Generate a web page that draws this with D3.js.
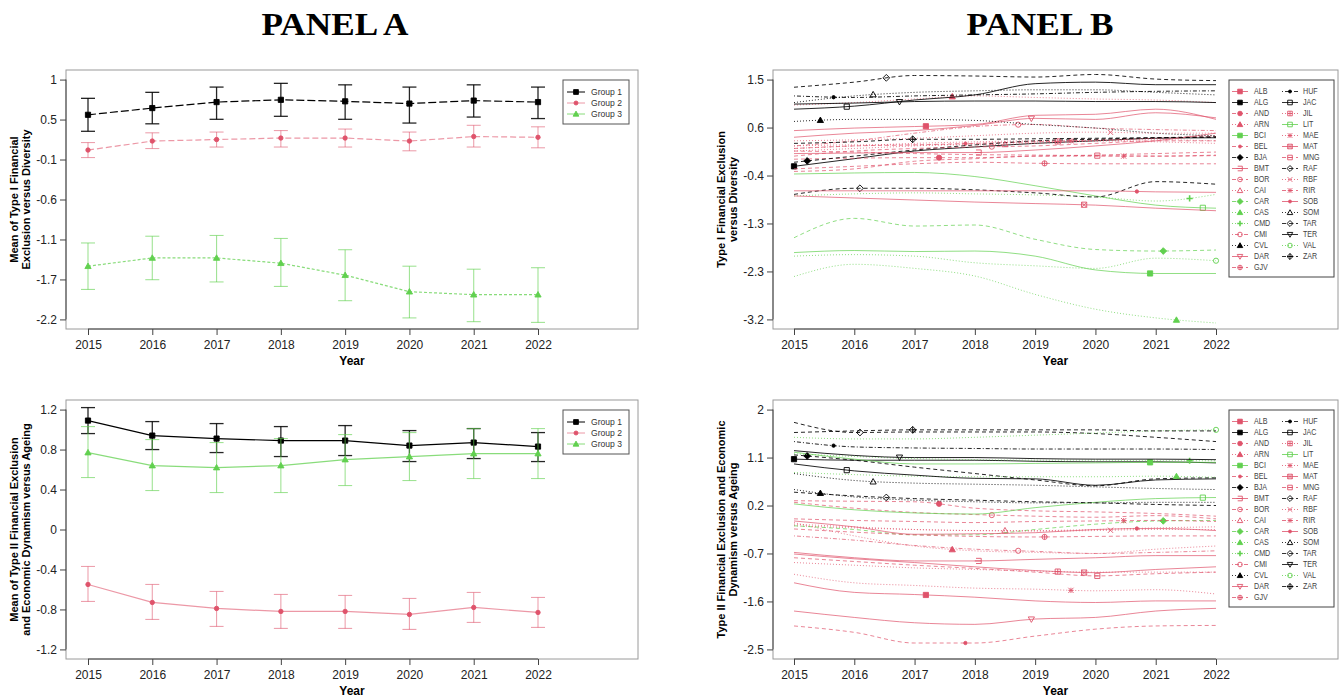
<!DOCTYPE html>
<html><head><meta charset="utf-8">
<script src="https://cdn.jsdelivr.net/npm/d3@7"></script>
<style>
body{margin:0;background:#fff}
svg{display:block}
text{font-family:"Liberation Sans",Arial,Helvetica,sans-serif}
</style>
</head><body>
<script>
// ---------------- DATA ----------------
const years = [2015, 2016, 2017, 2018, 2019, 2020, 2021, 2022];
const groupNames = ["Group 1", "Group 2", "Group 3"];

// Panel A, top: mean of Type I Financial Exclusion versus Diversity
const typeI_mean_G1 = [0.53, 0.62, 0.70, 0.73, 0.71, 0.68, 0.72, 0.70];
const typeI_low_G1  = [0.31, 0.41, 0.47, 0.51, 0.47, 0.42, 0.50, 0.48];
const typeI_high_G1 = [0.75, 0.83, 0.90, 0.95, 0.93, 0.90, 0.93, 0.90];
const typeI_mean_G2 = [0.06, 0.18, 0.20, 0.22, 0.22, 0.18, 0.24, 0.23];
const typeI_low_G2  = [-0.04, 0.08, 0.10, 0.10, 0.10, 0.05, 0.10, 0.09];
const typeI_high_G2 = [0.16, 0.29, 0.30, 0.32, 0.34, 0.30, 0.39, 0.37];
const typeI_mean_G3 = [-1.49, -1.38, -1.38, -1.45, -1.61, -1.83, -1.87, -1.87];
const typeI_low_G3  = [-1.80, -1.67, -1.70, -1.76, -1.95, -2.18, -2.23, -2.24];
const typeI_high_G3 = [-1.18, -1.09, -1.08, -1.12, -1.27, -1.49, -1.53, -1.51];

// Panel A, bottom: mean of Type II Financial Exclusion and Economic Dynamism versus Ageing
const typeII_mean_G1 = [1.09, 0.94, 0.91, 0.89, 0.89, 0.84, 0.87, 0.83];
const typeII_low_G1  = [0.96, 0.80, 0.77, 0.73, 0.74, 0.68, 0.71, 0.68];
const typeII_high_G1 = [1.22, 1.08, 1.06, 1.03, 1.04, 0.99, 1.01, 0.97];
const typeII_mean_G2 = [-0.55, -0.73, -0.79, -0.82, -0.82, -0.85, -0.78, -0.83];
const typeII_low_G2  = [-0.72, -0.90, -0.97, -0.99, -0.99, -1.00, -0.93, -0.98];
const typeII_high_G2 = [-0.37, -0.55, -0.62, -0.65, -0.66, -0.69, -0.63, -0.68];
const typeII_mean_G3 = [0.77, 0.64, 0.62, 0.64, 0.70, 0.73, 0.76, 0.76];
const typeII_low_G3  = [0.52, 0.39, 0.37, 0.37, 0.44, 0.49, 0.51, 0.51];
const typeII_high_G3 = [1.03, 0.90, 0.87, 0.91, 0.95, 0.97, 1.01, 1.01];

// Tick labels
const tickLabels_A_top    = ["-2.2", "-1.7", "-1.1", "-0.6", "-0.1", "0.5", "1"];
const tickLabels_A_bottom = ["-1.2", "-0.8", "-0.4", "0", "0.4", "0.8", "1.2"];
const tickLabels_B_top    = ["-3.2", "-2.3", "-1.3", "-0.4", "0.6", "1.5"];
const tickLabels_B_bottom = ["-2.5", "-1.6", "-0.7", "0.2", "1.1", "2"];

// Panel B: comarcas (legend order) and their group
const cities    = ["ALB","ALG","AND","ARN","BCI","BEL","BJA","BMT","BOR","CAI","CAR","CAS","CMD","CMI","CVL","DAR","GJV",
                   "HUF","JAC","JIL","LIT","MAE","MAT","MNG","RAF","RBF","RIR","SOB","SOM","TAR","TER","VAL","ZAR"];
const cityGroup = [2,1,2,2,3,2,1,2,2,2,3,3,3,2,1,2,2, 1,1,2,3,2,2,2,1,2,2,2,1,1,1,3,1];

// Panel B top: Type I Financial Exclusion versus Diversity
const typeI_ALB = [0.50, 0.55, 0.58, 0.62, 0.80, 0.82, 0.92, 0.72];
const typeI_ALG = [-0.20, -0.05, 0.10, 0.18, 0.25, 0.30, 0.35, 0.36];
const typeI_AND = [-0.06, -0.04, -0.03, -0.03, 0.00, 0.02, 0.05, 0.08];
const typeI_ARN = [1.00, 1.05, 1.12, 1.18, 1.15, 1.12, 1.10, 1.05];
const typeI_BCI = [-1.89, -1.85, -1.87, -1.86, -1.96, -2.23, -2.30, -2.30];
const typeI_BEL = [0.15, 0.20, 0.22, 0.25, 0.28, 0.32, 0.35, 0.38];
const typeI_BJA = [-0.12, 0.00, 0.12, 0.22, 0.30, 0.33, 0.36, 0.38];
const typeI_BMT = [0.05, 0.06, 0.07, 0.07, 0.12, 0.20, 0.30, 0.45];
const typeI_BOR = [0.00, 0.10, 0.15, 0.18, 0.20, 0.25, 0.30, 0.30];
const typeI_CAI = [0.20, 0.22, 0.22, 0.22, 0.25, 0.30, 0.35, 0.40];
const typeI_CAR = [-1.60, -1.22, -1.37, -1.35, -1.63, -1.83, -1.86, -1.84];
const typeI_CAS = [-2.36, -2.12, -2.20, -2.35, -2.71, -3.00, -3.17, -3.27];
const typeI_CMD = [-0.78, -0.74, -0.72, -0.74, -0.76, -0.80, -0.88, -0.75];
const typeI_CMI = [0.20, 0.30, 0.45, 0.58, 0.62, 0.55, 0.52, 0.50];
const typeI_CVL = [0.68, 0.72, 0.72, 0.70, 0.62, 0.55, 0.45, 0.40];
const typeI_DAR = [0.37, 0.45, 0.50, 0.60, 0.74, 0.72, 0.85, 0.75];
const typeI_GJV = [-0.25, -0.20, -0.15, -0.12, -0.14, -0.15, -0.15, -0.15];
const typeI_HUF = [1.18, 1.15, 1.18, 1.20, 1.22, 1.25, 1.27, 1.28];
const typeI_JAC = [0.92, 0.98, 1.10, 1.20, 1.42, 1.45, 1.40, 1.40];
const typeI_JIL = [0.10, 0.15, 0.20, 0.25, 0.28, 0.30, 0.32, 0.30];
const typeI_LIT = [-0.35, -0.33, -0.32, -0.40, -0.58, -0.78, -0.96, -1.02];
const typeI_MAE = [0.15, 0.20, 0.25, 0.28, 0.30, 0.30, 0.28, 0.25];
const typeI_MAT = [-0.78, -0.82, -0.86, -0.90, -0.93, -0.96, -1.02, -1.07];
const typeI_MNG = [0.10, 0.08, 0.05, 0.03, 0.02, 0.01, 0.00, 0.02];
const typeI_RAF = [-0.75, -0.63, -0.63, -0.66, -0.72, -0.80, -0.50, -0.55];
const typeI_RBF = [0.30, 0.32, 0.35, 0.40, 0.45, 0.47, 0.45, 0.45];
const typeI_RIR = [-0.30, -0.25, -0.10, -0.05, 0.00, 0.00, 0.00, 0.01];
const typeI_SOB = [-0.68, -0.68, -0.68, -0.68, -0.68, -0.68, -0.70, -0.71];
const typeI_SOM = [1.05, 1.18, 1.25, 1.28, 1.30, 1.30, 1.25, 1.20];
const typeI_TAR = [1.35, 1.45, 1.58, 1.57, 1.55, 1.60, 1.51, 1.48];
const typeI_TER = [1.02, 1.04, 1.07, 1.08, 1.08, 1.07, 1.07, 1.05];
const typeI_VAL = [-1.96, -1.93, -1.96, -2.09, -2.15, -2.20, -2.00, -2.05];
const typeI_ZAR = [0.25, 0.28, 0.33, 0.33, 0.34, 0.35, 0.36, 0.37];

// Panel B bottom: Type II Financial Exclusion and Economic Dynamism versus Ageing
const typeII_ALB = [-1.25, -1.43, -1.47, -1.52, -1.59, -1.62, -1.59, -1.59];
const typeII_ALG = [1.07, 1.05, 1.05, 1.05, 1.03, 1.02, 1.02, 1.00];
const typeII_AND = [0.29, 0.28, 0.27, 0.15, 0.10, 0.08, 0.05, 0.00];
const typeII_ARN = [-0.12, -0.37, -0.56, -0.65, -0.68, -0.70, -0.62, -0.56];
const typeII_BCI = [1.20, 1.07, 0.98, 0.98, 0.99, 1.00, 1.01, 1.01];
const typeII_BEL = [-2.06, -2.18, -2.38, -2.38, -2.25, -2.12, -2.06, -2.05];
const typeII_BJA = [1.15, 1.05, 0.92, 0.80, 0.68, 0.57, 0.70, 0.72];
const typeII_BMT = [-0.68, -0.78, -0.84, -0.84, -0.81, -0.78, -0.74, -0.74];
const typeII_BOR = [0.26, 0.15, 0.07, 0.03, 0.00, -0.02, 0.01, -0.05];
const typeII_CAI = [-0.18, -0.22, -0.25, -0.27, -0.27, -0.25, -0.22, -0.20];
const typeII_CAR = [-0.18, -0.25, -0.35, -0.35, -0.25, -0.15, -0.09, -0.08];
const typeII_CAS = [0.82, 0.78, 0.75, 0.74, 0.74, 0.74, 0.75, 0.73];
const typeII_CMD = [1.17, 1.12, 1.08, 1.06, 1.05, 1.05, 1.04, 1.04];
const typeII_CMI = [-0.37, -0.45, -0.55, -0.62, -0.66, -0.70, -0.68, -0.65];
const typeII_CVL = [0.50, 0.36, 0.30, 0.27, 0.25, 0.25, 0.26, 0.26];
const typeII_DAR = [-1.78, -1.90, -2.00, -2.03, -1.93, -1.90, -1.78, -1.73];
const typeII_GJV = [-0.24, -0.30, -0.35, -0.38, -0.39, -0.38, -0.37, -0.37];
const typeII_HUF = [1.40, 1.30, 1.28, 1.27, 1.26, 1.26, 1.26, 1.25];
const typeII_JAC = [0.98, 0.85, 0.77, 0.71, 0.70, 0.58, 0.68, 0.70];
const typeII_JIL = [-0.87, -0.92, -0.97, -1.00, -1.03, -1.05, -1.05, -1.05];
const typeII_LIT = [0.23, 0.12, 0.06, 0.04, 0.16, 0.26, 0.33, 0.35];
const typeII_MAE = [-1.09, -1.25, -1.30, -1.35, -1.37, -1.40, -1.38, -1.46];
const typeII_MAT = [-0.71, -0.80, -0.87, -0.95, -1.02, -1.06, -1.00, -0.95];
const typeII_MNG = [-0.78, -0.85, -0.92, -0.98, -1.05, -1.12, -1.08, -1.05];
const typeII_RAF = [1.76, 1.57, 1.58, 1.58, 1.58, 1.55, 1.48, 1.40];
const typeII_RBF = [-0.15, -0.20, -0.25, -0.27, -0.28, -0.27, -0.25, -0.25];
const typeII_RIR = [-0.05, -0.08, -0.10, -0.12, -0.10, -0.09, -0.08, -0.10];
const typeII_SOB = [-0.09, -0.20, -0.34, -0.33, -0.31, -0.25, -0.23, -0.27];
const typeII_SOM = [0.80, 0.67, 0.62, 0.60, 0.58, 0.55, 0.52, 0.50];
const typeII_TAR = [0.45, 0.38, 0.33, 0.30, 0.27, 0.25, 0.22, 0.20];
const typeII_TER = [1.23, 1.14, 1.10, 1.10, 1.08, 1.07, 1.07, 1.06];
const typeII_VAL = [1.48, 1.45, 1.45, 1.48, 1.52, 1.56, 1.60, 1.62];
const typeII_ZAR = [1.57, 1.60, 1.62, 1.62, 1.62, 1.62, 1.60, 1.60];

// ---------------- STYLES ----------------
const groupColor = {1: "#000000", 2: "#DF536B", 3: "#61D04F"};
const cityDash  = ["solid","solid","dashed","dotted","solid","dashed","dashed","solid","dashed","dotted","dashed","dotted","dotted","dotdash","dotted","solid","dashed",
                   "dotdash","solid","dotted","solid","dotted","solid","dashed","dashed","dotted","dashed","solid","dotted","dashed","solid","dotted","dashed"];
const cityShape = ["square","square","circle","triangle","square","dot","diamond","bracket","circleOpen","triangleOpen","diamond","triangle","plus","circleOpen","triangle","triangleDownOpen","circlePlus",
                   "dot","squareOpen","squarePlus","squareOpen","asterisk","squareX","squareMinus","diamondOpen","cross","asterisk","dot","triangleOpen","diamondOpen","triangleDownOpen","circleOpen","diamondPlus"];
const dashArray = {solid: null, dashed: "4,3", dotted: "1,2", dotdash: "1,2,4,2", longdash: "7,3"};

// ---------------- HELPERS ----------------
const svg = d3.select("body").append("svg").attr("width", 1343).attr("height", 699);

function circ(r){ return `M${-r},0A${r},${r} 0 1,0 ${r},0A${r},${r} 0 1,0 ${-r},0Z`; }
function markerPath(shape, s){
  const sq = `M${-s},${-s}H${s}V${s}H${-s}Z`;
  const pl = `M${-s},0H${s}M0,${-s}V${s}`;
  const cr = `M${-s},${-s}L${s},${s}M${-s},${s}L${s},${-s}`;
  const h = s*1.2, d = s*1.3;
  const dm = `M0,${-d}L${d},0L0,${d}L${-d},0Z`;
  switch(shape){
    case "square": case "squareOpen": return sq;
    case "circle": case "circleOpen": return circ(s);
    case "dot": return circ(s*0.65);
    case "triangle": case "triangleOpen": return `M0,${-h}L${h},${h*0.75}L${-h},${h*0.75}Z`;
    case "triangleDownOpen": return `M0,${h}L${h},${-h*0.75}L${-h},${-h*0.75}Z`;
    case "diamond": case "diamondOpen": return dm;
    case "plus": return `M${-s*1.2},0H${s*1.2}M0,${-s*1.2}V${s*1.2}`;
    case "cross": return cr;
    case "asterisk": return pl + cr;
    case "squarePlus": return sq + pl;
    case "squareX": return sq + cr;
    case "squareMinus": return sq + `M${-s},0H${s}`;
    case "circlePlus": return circ(s) + pl;
    case "diamondPlus": return dm + `M${-d},0H${d}M0,${-d}V${d}`;
    case "bracket": return `M${-s},${-s}H${s}V${s}H${-s}M${-s*1.5},0H${s}`;
  }
  return sq;
}
const filledShapes = new Set(["square","circle","dot","triangle","diamond"]);
function drawMarker(g, shape, x, y, color, s){
  const filled = filledShapes.has(shape);
  g.append("path").attr("d", markerPath(shape, s))
    .attr("transform", `translate(${x},${y})`)
    .attr("fill", filled ? color : "none")
    .attr("stroke", color)
    .attr("stroke-width", shape === "plus" ? 1.6 : 0.9);
}

function frame(cfg){
  const g = svg.append("g");
  const {box, x, y, labels} = cfg;
  g.append("rect").attr("x", box.x0).attr("y", box.y0)
    .attr("width", box.x1 - box.x0).attr("height", box.y1 - box.y0)
    .attr("fill", "none").attr("stroke", "#9a9a9a").attr("stroke-width", 1);
  // x axis
  const xa = g.append("g").attr("transform", `translate(0,${box.y1})`)
    .call(d3.axisBottom(x).tickValues(years).tickFormat(d3.format("d")).tickSize(6).tickSizeOuter(0).tickPadding(5));
  xa.select(".domain").remove();
  xa.append("line").attr("x1", x(years[0])).attr("x2", x(years[years.length-1])).attr("stroke", "#444");
  xa.selectAll(".tick line").attr("stroke", "#444");
  xa.selectAll("text").style("font-size", "12px").attr("fill", "#222");
  // y axis: evenly spaced ticks with rounded labels
  const vals = labels.map(Number);
  const lo = vals[0], hi = vals[vals.length-1];
  const tv = d3.range(vals.length).map(i => lo + i*(hi-lo)/(vals.length-1));
  const ya = g.append("g").attr("transform", `translate(${box.x0},0)`)
    .call(d3.axisLeft(y).tickValues(tv).tickFormat((d,i) => labels[i]).tickSize(6).tickSizeOuter(0).tickPadding(3));
  ya.select(".domain").remove();
  ya.append("line").attr("y1", y(lo)).attr("y2", y(hi)).attr("stroke", "#444");
  ya.selectAll(".tick line").attr("stroke", "#444");
  ya.selectAll("text").style("font-size", "12px").attr("fill", "#222");
  // axis titles
  g.append("text").attr("x", (box.x0 + box.x1)/2).attr("y", box.y1 + 36)
    .attr("text-anchor", "middle").style("font-size", "12px").style("font-weight", "bold").text("Year");
  const yc = (box.y0 + box.y1)/2;
  cfg.title.forEach((t, i) => {
    const tx = box.x0 - 51 + i*12;
    g.append("text").attr("transform", `translate(${tx},${yc}) rotate(-90)`)
      .attr("text-anchor", "middle").attr("dominant-baseline", "middle")
      .style("font-size", "11px").style("font-weight", "bold").text(t);
  });
  return g;
}
function yScaleFor(labels, box){
  const vals = labels.map(Number);
  const lo = vals[0], hi = vals[vals.length-1], pad = 0.04*(hi-lo);
  return d3.scaleLinear().domain([lo - pad, hi + pad]).range([box.y1, box.y0]);
}
function squeezeText(sel, ratio){
  sel.each(function(){
    const L = this.getComputedTextLength();
    d3.select(this).attr("textLength", L*ratio).attr("lengthAdjust", "spacingAndGlyphs");
  });
}

// ---------------- TITLES ----------------
[["PANEL A", 335], ["PANEL B", 1040]].forEach(([t, cx]) => {
  const tt = svg.append("text").attr("x", cx).attr("y", 35).attr("text-anchor", "middle")
    .style("font-family", "'Liberation Serif','Times New Roman',serif")
    .style("font-weight", "bold").style("font-size", "32px").text(t);
  squeezeText(tt, 1.1);
});

// ---------------- PANEL A ----------------
function panelA(cfg){
  const box = cfg.box;
  const x = d3.scaleLinear().domain([2015, 2022]).range([88, 538]);
  const y = yScaleFor(cfg.labels, box);
  const g = frame({box, x, y, labels: cfg.labels, title: cfg.title});
  const shapes = ["square", "circle", "triangle"];
  const lineCol = ["#000000", "rgba(223,83,107,0.6)", "rgba(97,208,79,0.75)"];
  const barCol  = ["rgba(0,0,0,0.85)", "rgba(223,83,107,0.55)", "rgba(97,208,79,0.6)"];
  cfg.series.forEach((s, gi) => {
    const pts = years.map((yr, i) => ({yr, m: s.mean[i], lo: s.low[i], hi: s.high[i]}));
    // error bars
    pts.forEach(p => {
      const bar = g.append("g").attr("stroke", barCol[gi]).attr("stroke-width", gi === 0 ? 1.3 : 1.1);
      bar.append("line").attr("x1", x(p.yr)).attr("x2", x(p.yr)).attr("y1", y(p.lo)).attr("y2", y(p.hi));
      bar.append("line").attr("x1", x(p.yr)-7).attr("x2", x(p.yr)+7).attr("y1", y(p.lo)).attr("y2", y(p.lo));
      bar.append("line").attr("x1", x(p.yr)-7).attr("x2", x(p.yr)+7).attr("y1", y(p.hi)).attr("y2", y(p.hi));
    });
    g.append("path").datum(pts)
      .attr("d", d3.line().x(p => x(p.yr)).y(p => y(p.m)))
      .attr("fill", "none").attr("stroke", lineCol[gi]).attr("stroke-width", 1.2)
      .attr("stroke-dasharray", cfg.dashes ? cfg.dashes[gi] : null);
    pts.forEach(p => drawMarker(g, shapes[gi], x(p.yr), y(p.m), groupColor[gi+1], gi === 1 ? 2.2 : 2.6));
  });
  // legend
  const lg = g.append("g");
  lg.append("rect").attr("x", 563).attr("y", cfg.legendTop).attr("width", 66).attr("height", 44)
    .attr("fill", "#fff").attr("stroke", "#555").attr("stroke-width", 1);
  groupNames.forEach((n, i) => {
    const ly = cfg.legendTop + 12 + i*11;
    lg.append("line").attr("x1", 567).attr("x2", 585).attr("y1", ly).attr("y2", ly)
      .attr("stroke", lineCol[i]).attr("stroke-width", 1);
    drawMarker(lg, shapes[i], 576, ly, groupColor[i+1], i === 1 ? 2 : 2.4);
    const t = lg.append("text").attr("x", 591).attr("y", ly).attr("dominant-baseline", "middle")
      .style("font-size", "9.5px").attr("fill", "#333").text(n);
    squeezeText(t, 0.9);
  });
}

panelA({
  box: {x0: 66, x1: 638, y0: 70, y1: 329},
  labels: tickLabels_A_top,
  title: ["Mean of Type I Financial", "Exclusion versus Diversity"],
  legendTop: 80,
  dashes: ["8,3", "6,3", "3,2"],
  series: [
    {mean: typeI_mean_G1, low: typeI_low_G1, high: typeI_high_G1},
    {mean: typeI_mean_G2, low: typeI_low_G2, high: typeI_high_G2},
    {mean: typeI_mean_G3, low: typeI_low_G3, high: typeI_high_G3}
  ]
});
panelA({
  box: {x0: 66, x1: 638, y0: 400, y1: 659},
  labels: tickLabels_A_bottom,
  title: ["Mean of Type II Financial Exclusion", "and Economic Dynamism versus Ageing"],
  legendTop: 410,
  dashes: null,
  series: [
    {mean: typeII_mean_G1, low: typeII_low_G1, high: typeII_high_G1},
    {mean: typeII_mean_G2, low: typeII_low_G2, high: typeII_high_G2},
    {mean: typeII_mean_G3, low: typeII_low_G3, high: typeII_high_G3}
  ]
});

// ---------------- PANEL B ----------------
const typeISeries = {ALB:typeI_ALB,ALG:typeI_ALG,AND:typeI_AND,ARN:typeI_ARN,BCI:typeI_BCI,BEL:typeI_BEL,BJA:typeI_BJA,BMT:typeI_BMT,BOR:typeI_BOR,CAI:typeI_CAI,CAR:typeI_CAR,CAS:typeI_CAS,CMD:typeI_CMD,CMI:typeI_CMI,CVL:typeI_CVL,DAR:typeI_DAR,GJV:typeI_GJV,HUF:typeI_HUF,JAC:typeI_JAC,JIL:typeI_JIL,LIT:typeI_LIT,MAE:typeI_MAE,MAT:typeI_MAT,MNG:typeI_MNG,RAF:typeI_RAF,RBF:typeI_RBF,RIR:typeI_RIR,SOB:typeI_SOB,SOM:typeI_SOM,TAR:typeI_TAR,TER:typeI_TER,VAL:typeI_VAL,ZAR:typeI_ZAR};
const typeIISeries = {ALB:typeII_ALB,ALG:typeII_ALG,AND:typeII_AND,ARN:typeII_ARN,BCI:typeII_BCI,BEL:typeII_BEL,BJA:typeII_BJA,BMT:typeII_BMT,BOR:typeII_BOR,CAI:typeII_CAI,CAR:typeII_CAR,CAS:typeII_CAS,CMD:typeII_CMD,CMI:typeII_CMI,CVL:typeII_CVL,DAR:typeII_DAR,GJV:typeII_GJV,HUF:typeII_HUF,JAC:typeII_JAC,JIL:typeII_JIL,LIT:typeII_LIT,MAE:typeII_MAE,MAT:typeII_MAT,MNG:typeII_MNG,RAF:typeII_RAF,RBF:typeII_RBF,RIR:typeII_RIR,SOB:typeII_SOB,SOM:typeII_SOM,TAR:typeII_TAR,TER:typeII_TER,VAL:typeII_VAL,ZAR:typeII_ZAR};

// order in which the single markers are spread along the x range: by group, then name
const markerOrder = cities.map((c, i) => i).sort((a, b) => cityGroup[a] - cityGroup[b] || d3.ascending(cities[a], cities[b]));
const markerRank = {};
markerOrder.forEach((ci, k) => markerRank[cities[ci]] = k);

function pointAtX(node, tx){
  const L = node.getTotalLength();
  let lo = 0, hi = L;
  for (let i = 0; i < 40; i++){
    const mid = (lo + hi)/2;
    if (node.getPointAtLength(mid).x < tx) lo = mid; else hi = mid;
  }
  return node.getPointAtLength((lo + hi)/2);
}

function panelB(cfg){
  const box = cfg.box;
  const x = d3.scaleLinear().domain([2015, 2022]).range([794, 1216]);
  const y = yScaleFor(cfg.labels, box);
  const g = frame({box, x, y, labels: cfg.labels, title: cfg.title});
  const line = d3.line().x((v, i) => x(years[i])).y(v => y(v)).curve(d3.curveMonotoneX);
  const n = cities.length;
  cities.forEach((c, i) => {
    const col = groupColor[cityGroup[i]];
    const p = g.append("path").attr("d", line(cfg.data[c]))
      .attr("fill", "none").attr("stroke", col)
      .attr("stroke-opacity", cityGroup[i] === 1 ? 0.85 : 0.7)
      .attr("stroke-width", 1)
      .attr("stroke-dasharray", dashArray[cityDash[i]]);
    const tx = x(2015 + markerRank[c]*7/(n-1));
    const pt = pointAtX(p.node(), tx);
    drawMarker(g, cityShape[i], pt.x, pt.y, col, 2.6);
  });
  // legend
  const lg = g.append("g");
  lg.append("rect").attr("x", 1229).attr("y", cfg.legendTop).attr("width", 105).attr("height", 197)
    .attr("fill", "#fff").attr("stroke", "#444").attr("stroke-width", 1);
  cities.forEach((c, i) => {
    const col = i < 17 ? 0 : 1, row = i < 17 ? i : i - 17;
    const ly = cfg.legendTop + 11.5 + row*11;
    const x1 = col ? 1282 : 1232, x2 = col ? 1298 : 1248;
    const color = groupColor[cityGroup[i]];
    lg.append("line").attr("x1", x1).attr("x2", x2).attr("y1", ly).attr("y2", ly)
      .attr("stroke", color).attr("stroke-opacity", 0.8).attr("stroke-width", 1)
      .attr("stroke-dasharray", dashArray[cityDash[i]]);
    drawMarker(lg, cityShape[i], (x1 + x2)/2, ly, color, 2.3);
    const t = lg.append("text").attr("x", col ? 1303 : 1254).attr("y", ly)
      .attr("dominant-baseline", "middle").style("font-size", "9.5px").attr("fill", "#444").text(c);
    squeezeText(t, 0.75);
  });
}

panelB({
  box: {x0: 773, x1: 1338, y0: 70, y1: 329},
  labels: tickLabels_B_top,
  title: ["Type I Financial Exclusion", "versus Diversity"],
  legendTop: 80,
  data: typeISeries
});
panelB({
  box: {x0: 773, x1: 1338, y0: 400, y1: 659},
  labels: tickLabels_B_bottom,
  title: ["Type II Financial Exclusion and Economic", "Dynamism versus Ageing"],
  legendTop: 410,
  data: typeIISeries
});
</script>
</body></html>
